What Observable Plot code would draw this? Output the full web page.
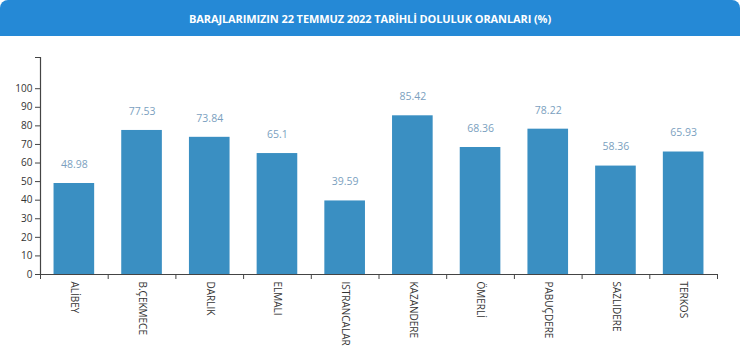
<!DOCTYPE html>
<html>
<head>
<meta charset="utf-8">
<script src="https://cdn.jsdelivr.net/npm/d3@7"></script>
<script src="https://cdn.jsdelivr.net/npm/@observablehq/plot@0.6"></script>
<style>
  body { margin: 0; background: #fff; font-family: "Open Sans", sans-serif; }
  #header {
    height: 36px; background: #2589d6; color: #fff;
    border-radius: 8px 8px 0 0;
    display: flex; align-items: center; justify-content: center;
    font-size: 11px; font-weight: 700; letter-spacing: -0.1px;
  }
  svg text { font-family: "Open Sans", sans-serif; }
</style>
</head>
<body>
<div id="header">BARAJLARIMIZIN 22 TEMMUZ 2022 TARİHLİ DOLULUK ORANLARI (%)</div>
<div id="chart"></div>
<script>
const dams = ["ALİBEY", "B.ÇEKMECE", "DARLIK", "ELMALI", "ISTRANCALAR", "KAZANDERE", "ÖMERLİ", "PABUÇDERE", "SAZLIDERE", "TERKOS"];
const rates = [48.98, 77.53, 73.84, 65.1, 39.59, 85.42, 68.36, 78.22, 58.36, 65.93];
const rateLabels = ["48.98", "77.53", "73.84", "65.1", "39.59", "85.42", "68.36", "78.22", "58.36", "65.93"];
const yTicks = [0, 10, 20, 30, 40, 50, 60, 70, 80, 90, 100];
const yMax = 116.8;

const data = dams.map((d, i) => ({name: d, value: rates[i], label: rateLabels[i], i}));
const boundaries = d3.range(0, dams.length + 1);
const centers = dams.map((d, i) => i + 0.5);

const axisColor = "#444";
const chart = Plot.plot({
  width: 740,
  height: 319,
  marginTop: 21,
  marginBottom: 81,
  marginLeft: 40,
  marginRight: 23,
  style: {fontSize: "10px", color: "#333", background: "#fff"},
  x: {domain: [0, dams.length], axis: null},
  y: {domain: [0, yMax], axis: null},
  marks: [
    Plot.rectY(data, {x1: d => d.i + 0.2, x2: d => d.i + 0.8, y: "value", fill: "#3a8fc2"}),
    Plot.text(data, {x: d => d.i + 0.5, y: "value", text: "label", dy: -19, fill: "#7b9fc0", fontSize: 10.5}),
    Plot.ruleY([0], {stroke: axisColor, strokeWidth: 1.2}),
    Plot.ruleX([0], {stroke: axisColor, strokeWidth: 1.2}),
    Plot.axisY({ticks: yTicks.concat([yMax]), tickFormat: v => yTicks.includes(v) ? String(v) : "", tickSize: 5, tickPadding: 3, stroke: axisColor, fill: "#333", label: null}),
    Plot.axisX({ticks: boundaries, tickFormat: () => "", tickSize: 5, stroke: axisColor, label: null}),
    Plot.axisX({ticks: centers, tickFormat: v => dams[Math.floor(v)], tickSize: 0, tickPadding: 7, tickRotate: 90, fill: "#333", fontSize: 10, label: null})
  ]
});
document.getElementById("chart").appendChild(chart);
</script>
</body>
</html>
